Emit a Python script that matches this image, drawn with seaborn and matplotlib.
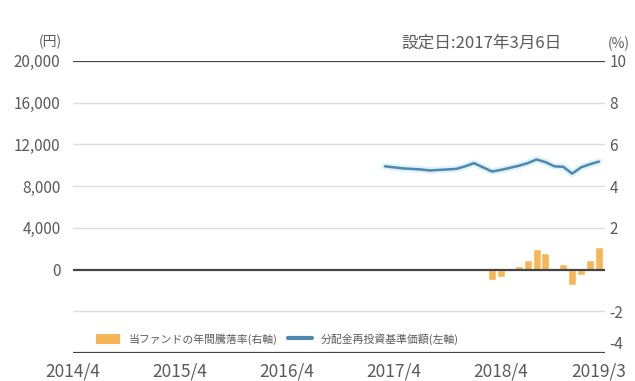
import matplotlib
matplotlib.use("Agg")
import matplotlib.pyplot as plt
import seaborn as sns
import pandas as pd
import numpy as np
from matplotlib.patches import Patch
from matplotlib.lines import Line2D

sns.set_style("white")
plt.rcParams['font.family'] = ['Noto Sans CJK JP', 'DejaVu Sans']

# months counted from 2014/4 (=0)
nav_months = list(range(35, 60))
nav_values = [9900, 9800, 9700, 9650, 9600, 9500, 9550, 9600, 9650, 9900,
              10200, 9800, 9400, 9550, 9750, 9950, 10200, 10550, 10300, 9900,
              9850, 9200, 9800, 10100, 10350]
ret_months = list(range(47, 60))
ret_values = [-0.5, -0.35, 0.05, 0.15, 0.45, 1.0, 0.8, 0.05, 0.25, -0.75, -0.25, 0.45, 1.1]
xtick_pos = [0, 12, 24, 36, 48, 59]
xtick_labels = ["2014/4", "2015/4", "2016/4", "2017/4", "2018/4", "2019/3"]
left_ticks = [-8000, -4000, 0, 4000, 8000, 12000, 16000, 20000]
left_labels = ["", "", "0", "4,000", "8,000", "12,000", "16,000", "20,000"]
right_ticks = [-4, -2, 0, 2, 4, 6, 8, 10]
right_labels = ["-4", "-2", "", "2", "4", "6", "8", "10"]

nav_df = pd.DataFrame({"month": nav_months, "nav": nav_values})
ret_df = pd.DataFrame({"month": ret_months, "ret": ret_values})

fig = plt.figure(figsize=(6.35, 3.81), dpi=100)
ax = fig.add_axes([0.115, 0.0735, 0.838, 0.7665])
ax2 = ax.twinx()

tick_color = "#5a5a5a"
bar_color = "#F7B656"
line_color = "#5088AD"
# gridlines
for v in [16000, 12000, 8000, 4000, -4000]:
    ax.axhline(v, color="#dddddd", lw=1.0, zorder=0)
for v in [20000, 0, -8000]:
    ax.axhline(v, color="#444444", lw=1.6, zorder=3)

sns.barplot(data=ret_df, x="month", y="ret", native_scale=True, ax=ax2,
            color=bar_color, width=0.9, saturation=1, zorder=2)
ax2.set_ylim(-4, 10)
ax2.set_yticks(right_ticks)
ax2.set_yticklabels(right_labels)

# line on left axis, drawn above bars
ax.set_zorder(ax2.get_zorder() + 1)
ax.patch.set_visible(False)
sns.lineplot(data=nav_df, x="month", y="nav", ax=ax, color="#DDF2FA", lw=5, zorder=4)
sns.lineplot(data=nav_df, x="month", y="nav", ax=ax, color=line_color, lw=1.8, zorder=5)
ax.set_ylim(-8000, 20000)
ax.set_xlim(0, 59.7)
ax.set_yticks(left_ticks)
ax.set_yticklabels(left_labels)
ax.set_xticks(xtick_pos)
ax.set_xticklabels(xtick_labels)
ax.set_xlabel("")
ax.set_ylabel("")
ax2.set_ylabel("")
ax2.set_xlabel("")

for a in (ax, ax2):
    for s in a.spines.values():
        s.set_visible(False)
    a.tick_params(length=0, colors=tick_color, labelsize=11)
ax.tick_params(axis="x", labelsize=12.5, pad=7)
ax.tick_params(axis="y", labelsize=11, pad=9)
ax2.tick_params(axis="y", labelsize=11, pad=3)
# nudge the bottom right label up a little so it clears the date label
for lbl in ax2.get_yticklabels():
    if lbl.get_text() == "-4":
        lbl.set_va("bottom")

fig.text(0.098, 0.87, "(円)", ha="right", va="bottom", fontsize=10, color=tick_color)
fig.text(0.885, 0.865, "設定日:2017年3月6日", ha="right", va="bottom", fontsize=12, color=tick_color)
fig.text(0.957, 0.865, "(%)", ha="left", va="bottom", fontsize=10, color=tick_color)

handles = [Patch(facecolor=bar_color, edgecolor="none"),
           Line2D([0], [0], color=line_color, lw=3)]
labels = ["当ファンドの年間騰落率(右軸)", "分配金再投資基準価額(左軸)"]
leg = ax.legend(handles, labels, loc="lower left", bbox_to_anchor=(0.025, -0.005), ncol=2,
                frameon=False, fontsize=7.8, handlelength=2.2, columnspacing=1.0,
                handletextpad=0.8, handleheight=1.1)
for t in leg.get_texts():
    t.set_color(tick_color)

fig.savefig("out.png", dpi=100)
